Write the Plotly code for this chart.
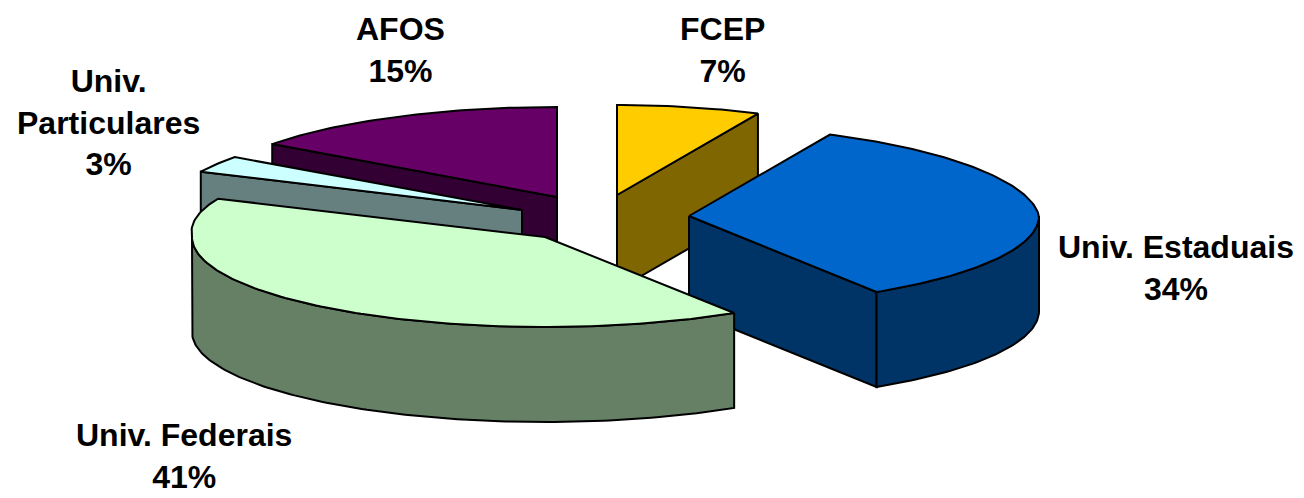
import math
import plotly.graph_objects as go

# data (clockwise from 12 o'clock)
categories = ["FCEP", "Univ. Estaduais", "Univ. Federais", "Univ. Particulares", "AFOS"]
shares = [7, 34, 41, 3, 15]

# appearance
top_colors = ["#FFCC00", "#0066CC", "#CCFFCC", "#CCFFFF", "#660066"]
side_colors = ["#806600", "#003366", "#668066", "#668080", "#330033"]
pie_centre = (600, 215)
explode = [(17, -20), (89, 1), (-55, 22), (-78, -5), (-43, -18)]
radius_x = [350, 350, 353, 355, 352]
back_taper = [0.06, 0.06, -0.055, 0, 0]
radius_y = 90
depth = 95
draw_order = [4, 0, 3, 1, 2]
label_text = ["FCEP<br>7%", "Univ. Estaduais<br>34%", "Univ. Federais<br>41%",
              "Univ.<br>Particulares<br>3%", "AFOS<br>15%"]
label_pos = [(722, 50), (1176, 268), (184, 456), (108, 122), (400, 50)]

fig = go.Figure()


def add_poly(pts, fill):
    xs = [p[0] for p in pts] + [pts[0][0]]
    ys = [p[1] for p in pts] + [pts[0][1]]
    fig.add_trace(go.Scatter(x=xs, y=ys, mode="lines", fill="toself", fillcolor=fill,
                             line=dict(color="black", width=2), hoverinfo="skip",
                             showlegend=False))


total = sum(shares)
starts, acc = [], 0
for s in shares:
    starts.append(acc / total * 360)
    acc += s

for i in draw_order:
    t0 = starts[i]
    t1 = t0 + shares[i] / total * 360
    ax = pie_centre[0] + explode[i][0]
    ay = pie_centre[1] + explode[i][1]
    rx = radius_x[i]
    taper = back_taper[i]

    def pt(deg, dz=0):
        r = math.radians(deg)
        c = math.cos(r)
        return (ax + rx * math.sin(r) * (1 - taper * max(c, 0)), ay - radius_y * c + dz)

    # radial faces
    if math.sin(math.radians(t0)) < -1e-6:
        add_poly([(ax, ay), pt(t0), pt(t0, depth), (ax, ay + depth)], side_colors[i])
    if math.sin(math.radians(t1)) > 1e-6:
        add_poly([(ax, ay), pt(t1), pt(t1, depth), (ax, ay + depth)], side_colors[i])
    # outer wall
    a, b = max(t0, 90), min(t1, 270)
    if b > a:
        n = int(b - a) + 1
        arc = [a + (b - a) * k / n for k in range(n + 1)]
        add_poly([pt(d) for d in arc] + [pt(d, depth) for d in reversed(arc)], side_colors[i])
    # top face
    n = int(t1 - t0) + 1
    arc = [t0 + (t1 - t0) * k / n for k in range(n + 1)]
    add_poly([(ax, ay)] + [pt(d) for d in arc], top_colors[i])

for txt, (x, y) in zip(label_text, label_pos):
    fig.add_annotation(x=x, y=y, text=txt, showarrow=False, xanchor="center", yanchor="middle",
                       align="center",
                       font=dict(family="Liberation Sans", size=32, color="black", weight="bold"))

fig.update_xaxes(range=[0, 1304], visible=False, fixedrange=True)
fig.update_yaxes(range=[498, 0], visible=False, fixedrange=True)
fig.update_layout(width=1304, height=498, margin=dict(l=0, r=0, t=0, b=0),
                  paper_bgcolor="white", plot_bgcolor="white", showlegend=False)
fig.write_html("out.html", config={"displayModeBar": False},
               post_script="document.body.style.margin='0';")
